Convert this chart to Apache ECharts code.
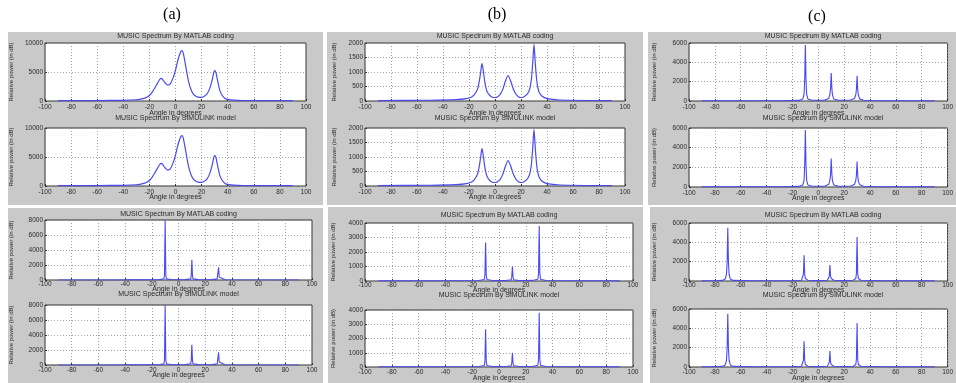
<!DOCTYPE html>
<html>
<head>
<meta charset="utf-8">
<script src="https://cdn.jsdelivr.net/npm/echarts@6/dist/echarts.min.js"></script>
<style>
html, body { margin: 0; padding: 0; background: #fff; }
#main { width: 956px; height: 383px; }
</style>
</head>
<body>
<div id="main"></div>
<script>
// MUSIC spectra, [angle, relative power]
const spectrumA = [[-90,60],[-60,80],[-40,120],[-30,220],[-25,400],[-22,650],[-20,950],[-18,1500],[-16,2200],[-14,3000],[-12,3750],[-11,3900],[-10,3750],[-8,3150],[-6,2750],[-4,2950],[-2,3900],[0,5300],[2,7200],[4,8500],[5,8700],[6,8200],[8,5800],[10,3400],[12,1900],[14,1100],[16,780],[18,640],[20,640],[22,800],[24,1200],[26,2000],[28,3500],[29,4600],[30,5300],[31,4900],[32,3800],[34,1800],[36,900],[38,450],[40,280],[45,150],[50,100],[70,70],[90,60]];
const spectrumB = [[-90,15],[-50,25],[-30,45],[-22,80],[-18,140],[-16,210],[-14,350],[-13,480],[-12,700],[-11,1000],[-10,1300],[-9,1050],[-8,700],[-7,460],[-6,320],[-4,190],[-2,130],[0,120],[2,150],[4,230],[6,400],[8,680],[10,880],[12,700],[14,420],[16,240],[18,150],[20,120],[22,140],[24,200],[26,330],[27,470],[28,750],[29,1300],[30,1950],[31,1300],[32,750],[33,450],[34,300],[36,170],[40,80],[50,35],[90,15]];
const spectrumC = [[-90,15],[-60,20],[-30,30],[-15,60],[-12,200],[-11,700],[-10.5,2200],[-10,5800],[-9.5,2200],[-9,700],[-8,200],[-5,80],[0,70],[5,90],[8,250],[9,700],[9.5,1300],[10,2900],[10.5,1300],[11,600],[12,200],[15,90],[20,80],[25,100],[28,250],[29,650],[29.5,1200],[30,2600],[30.5,1200],[31,600],[32,220],[35,80],[45,30],[90,15]];
const spectrumD = [[-90,10],[-40,20],[-15,40],[-11,150],[-10.5,600],[-10,7950],[-9.5,600],[-9,150],[-5,40],[0,30],[5,50],[9,150],[9.5,500],[10,2700],[10.5,500],[11,150],[15,50],[20,40],[25,50],[29,150],[29.5,400],[30,1700],[30.5,400],[31,150],[35,40],[90,10]];
const spectrumE = [[-90,10],[-40,15],[-15,30],[-11,100],[-10.5,400],[-10,2650],[-9.5,400],[-9,100],[-5,30],[0,25],[5,30],[9,80],[9.5,250],[10,1000],[10.5,250],[11,80],[15,30],[20,30],[25,40],[29,120],[29.5,500],[30,3800],[30.5,500],[31,120],[35,30],[90,10]];
const spectrumF = [[-90,15],[-80,30],[-74,60],[-72,200],[-71,700],[-70.5,2000],[-70,5500],[-69.5,2000],[-69,700],[-68,200],[-66,60],[-50,30],[-20,30],[-13,80],[-12,250],[-11.5,700],[-11,2650],[-10.5,700],[-10,250],[-8,80],[0,40],[7,80],[8,250],[8.5,500],[9,1650],[9.5,500],[10,250],[12,80],[20,40],[27,80],[29,250],[29.5,800],[30,4550],[30.5,800],[31,250],[33,80],[50,30],[90,15]];

const titleMatlab = 'MUSIC Spectrum By MATLAB coding';
const titleSimulink = 'MUSIC Spectrum By SIMULINK model';
const xLabel = 'Angle in degrees';
const yLabel = 'Relative power (in dB)';
const panelLabels = ['(a)', '(b)', '(c)'];

// y range of each panel: [max, step]
const yRanges = [[10000, 5000], [2000, 500], [6000, 2000], [8000, 2000], [4000, 1000], [6000, 2000]];
const panelSpectra = [spectrumA, spectrumB, spectrumC, spectrumD, spectrumE, spectrumF];

// layout: gray panel boxes and subplots
const panelBoxes = [[8,32,315,173],[327,32,316,173],[648,32,308,173],[8,208,315,175],[328,207,315,176],[650,207,306,176]];
// [left, top, width, height, titleCenterY, xLabelMargin, xNameGap, yNameGap]
const subLayout = [
    [[45,43,261,58,37,3,9,31],[45,128,261,58,119,3,8,31]],
    [[365,43,260,58,37,3,9,28],[365,128,260,58,119,3,8,28]],
    [[689,43,268,58,37,3,9,32],[689,128,268,59,119,3,8,32]],
    [[45,220,267,60,215,1,6,31],[45,305,267,60,295,2,7,31]],
    [[365,223,268,58,216,1,5.5,29],[365,310,268,58,296,2,8,29]],
    [[689,223,268,58,216,1,5.5,32],[689,309,268,58,296,2,8,32]]
];
const panelLabelPos = [[172,16],[497,16],[817,18]];

const chart = echarts.init(document.getElementById('main'));

const grids = [], xAxes = [], yAxes = [], series = [], titles = [];
const txt = '#2a2a2a';

panelLabelPos.forEach((p, i) => {
    titles.push({
        text: panelLabels[i], left: p[0], top: p[1] - 9, textAlign: 'center', padding: 0,
        textStyle: { fontFamily: 'Liberation Serif', fontSize: 16, fontWeight: 'normal', color: '#000' }
    });
});

let idx = 0;
subLayout.forEach((pair, pi) => {
    pair.forEach((g, si) => {
        grids.push({
            left: g[0], top: g[1], width: g[2], height: g[3],
            show: true, backgroundColor: '#fff', borderColor: '#333', borderWidth: 1
        });
        titles.push({
            text: si === 0 ? titleMatlab : titleSimulink,
            left: g[0] + g[2] / 2, top: g[4] - 4, textAlign: 'center', padding: 0,
            textStyle: { fontFamily: 'Liberation Sans', fontSize: 7, fontWeight: 'normal', color: txt }
        });
        xAxes.push({
            gridIndex: idx, type: 'value', min: -100, max: 100, interval: 20,
            name: xLabel, nameLocation: 'middle', nameGap: g[6], nameMoveOverlap: false,
            nameTextStyle: { fontFamily: 'Liberation Sans', fontSize: 7, color: txt },
            axisLine: { show: false, onZero: false },
            axisTick: { show: true, inside: true, length: 2, lineStyle: { color: '#333' } },
            axisLabel: { margin: g[5], fontSize: 6.5, fontFamily: 'Liberation Sans', color: txt },
            splitLine: { show: true, lineStyle: { color: '#8c8c8c', type: [1, 2], width: 0.8 } }
        });
        yAxes.push({
            gridIndex: idx, type: 'value', min: 0, max: yRanges[pi][0], interval: yRanges[pi][1],
            name: yLabel, nameLocation: 'middle', nameGap: g[7], nameMoveOverlap: false,
            nameTextStyle: { fontFamily: 'Liberation Sans', fontSize: 6, color: txt },
            axisLine: { show: false, onZero: false },
            axisTick: { show: true, inside: true, length: 2, lineStyle: { color: '#333' } },
            axisLabel: { margin: 2, fontSize: 6.5, fontFamily: 'Liberation Sans', color: txt, formatter: v => String(v) },
            splitLine: { show: true, lineStyle: { color: '#8c8c8c', type: [1, 2], width: 0.8 } }
        });
        series.push({
            type: 'line', xAxisIndex: idx, yAxisIndex: idx,
            data: panelSpectra[pi], showSymbol: false, symbol: 'none',
            smooth: pi < 2 ? 0.25 : false,
            lineStyle: { color: '#4a4af2', width: pi < 2 ? 1.2 : 1.1 },
            clip: true, silent: true
        });
        idx++;
    });
});

const option = {
    animation: false,
    title: titles,
    graphic: {
        elements: panelBoxes.map(b => ({
            type: 'rect', z: -10, silent: true,
            shape: { x: b[0], y: b[1], width: b[2], height: b[3] },
            style: { fill: '#c9c9c9' }
        }))
    },
    grid: grids,
    xAxis: xAxes,
    yAxis: yAxes,
    series: series
};

chart.setOption(option);
</script>
</body>
</html>
